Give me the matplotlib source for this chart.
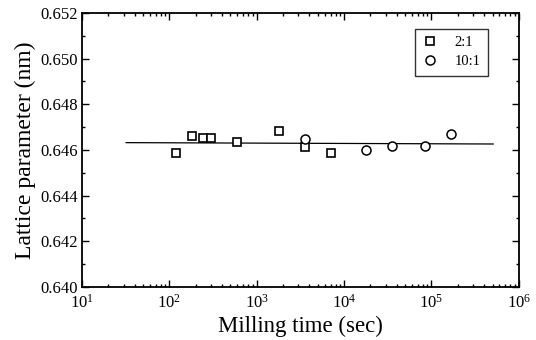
import matplotlib
matplotlib.use("Agg")
import matplotlib.pyplot as plt
from matplotlib.ticker import LogLocator, LogFormatterMathtext, MultipleLocator, FormatStrFormatter, NullFormatter

plt.rcParams['font.family'] = ['Liberation Serif', 'DejaVu Serif']
plt.rcParams['mathtext.fontset'] = 'stix'

# Data
time_21 = [120, 180, 240, 300, 600, 1800, 3600, 7000]
lat_21 = [0.64588, 0.64659, 0.64654, 0.64654, 0.64634, 0.64681, 0.64615, 0.64585]
time_101 = [3600, 18000, 35400, 83500, 167000]
lat_101 = [0.64647, 0.64600, 0.64619, 0.64619, 0.64670]
fit_time = [32, 508000]
fit_lat = [0.64632, 0.64626]
labels = ['2:1', '10:1']

fig = plt.figure(figsize=(5.36, 3.40), dpi=100)
ax = fig.add_axes([0.153, 0.156, 0.815, 0.806])

ax.plot(fit_time, fit_lat, color='black', lw=0.9, zorder=1)
ax.plot(time_21, lat_21, ls='none', marker='s', ms=5.6, mfc='white', mec='black', mew=1.2, label=labels[0], zorder=3)
ax.plot(time_101, lat_101, ls='none', marker='o', ms=6.5, mfc='white', mec='black', mew=1.1, label=labels[1], zorder=3)

ax.set_xscale('log')
ax.set_xlim(10, 1e6)
ax.set_ylim(0.640, 0.652)
ax.xaxis.set_major_locator(LogLocator(base=10, numticks=10))
ax.xaxis.set_major_formatter(LogFormatterMathtext())
ax.xaxis.set_minor_locator(LogLocator(base=10, subs=range(2, 10), numticks=20))
ax.xaxis.set_minor_formatter(NullFormatter())
ax.yaxis.set_major_locator(MultipleLocator(0.002))
ax.yaxis.set_minor_locator(MultipleLocator(0.001))
ax.yaxis.set_major_formatter(FormatStrFormatter('%.3f'))

ax.tick_params(which='both', direction='in', top=True, right=True, labelsize=12, width=1.0)
ax.tick_params(which='major', length=5)
ax.tick_params(which='minor', length=2.5)
ax.tick_params(axis='x', pad=5)
ax.tick_params(axis='y', pad=3)
for s in ax.spines.values():
    s.set_linewidth(1.3)

ax.set_xlabel('Milling time (sec)', fontsize=16.5, labelpad=3)
ax.set_ylabel('Lattice parameter (nm)', fontsize=17, labelpad=3)

leg = ax.legend(loc='upper right', bbox_to_anchor=(0.929, 0.942), borderaxespad=0, frameon=True, fancybox=False,
                edgecolor='black', fontsize=10.5, handletextpad=1.2, borderpad=0.5, labelspacing=0.4,
                handlelength=1.0)
leg.get_frame().set_linewidth(1.0)

fig.savefig('out.png', dpi=100)
